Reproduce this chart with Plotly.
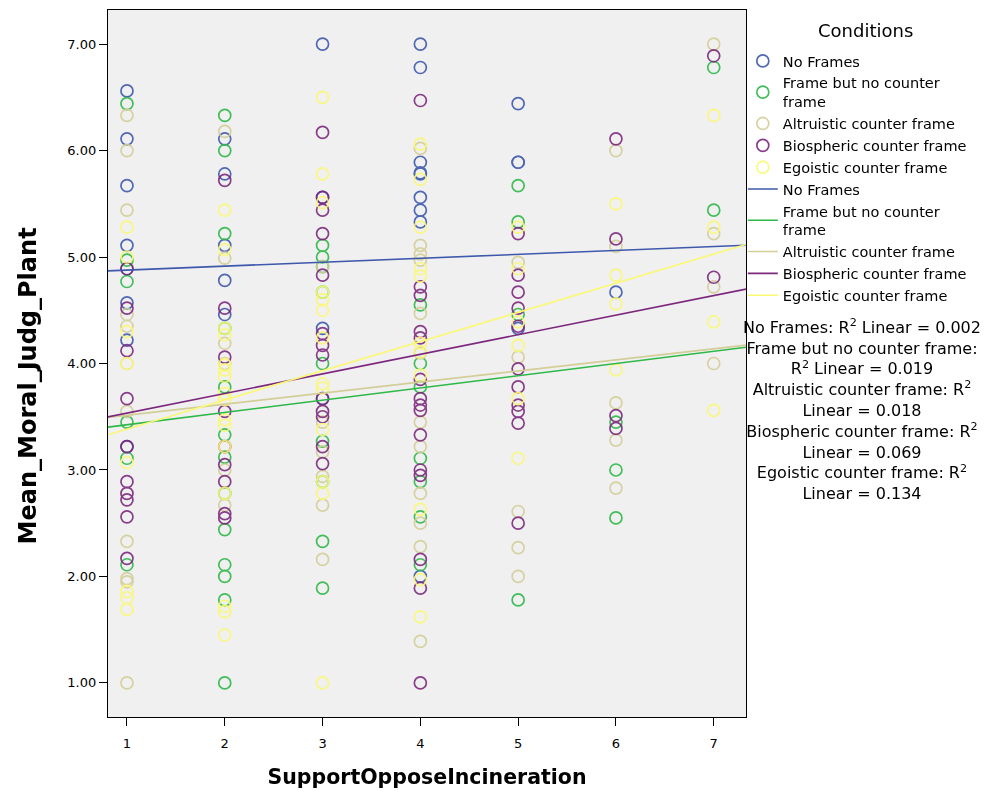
import plotly.graph_objects as go

# ---------------- data ----------------
conditions = ["No Frames", "Frame but no counter frame", "Altruistic counter frame",
              "Biospheric counter frame", "Egoistic counter frame"]
legend_names = ["No Frames", "Frame but no counter<br>frame", "Altruistic counter frame",
                "Biospheric counter frame", "Egoistic counter frame"]
colors = ["#3E58AC", "#2EB848", "#D3CE97", "#7C287D", "#FBF873"]

no_frames = {
    1: [6.56, 6.11, 5.67, 5.11, 4.89, 4.57, 4.22, 3.22],
    2: [6.11, 5.78, 5.11, 4.78, 4.46],
    3: [7.00, 5.56, 4.33, 3.67],
    4: [7.00, 6.78, 5.89, 5.79, 5.78, 5.56, 5.44, 5.33, 2.00],
    5: [6.44, 5.89, 5.89, 4.33],
    6: [4.67],
    7: [],
}
frame_no_counter = {
    1: [6.44, 4.97, 4.77, 3.45, 3.11, 2.11],
    2: [6.33, 6.00, 5.22, 4.33, 3.78, 3.33, 3.12, 2.78, 2.44, 2.11, 2.00, 1.78, 1.00],
    3: [5.11, 5.00, 4.91, 4.67, 4.00, 3.27, 2.89, 2.33, 1.89],
    4: [4.55, 4.00, 3.78, 3.11, 2.89, 2.56, 2.11],
    5: [5.67, 5.33, 4.46, 1.78],
    6: [3.45, 3.00, 2.55],
    7: [6.78, 5.44],
}
altruistic = {
    1: [6.33, 6.00, 5.44, 4.46, 4.35, 4.00, 3.55, 2.33, 1.98, 1.95, 1.00],
    2: [6.18, 4.99, 4.19, 4.00, 3.00, 2.67],
    3: [4.91, 3.45, 3.17, 2.94, 2.67, 2.16],
    4: [6.02, 5.11, 5.03, 4.97, 4.47, 4.10, 3.45, 3.22, 2.78, 2.50, 2.28, 1.39],
    5: [4.95, 4.06, 2.61, 2.27, 2.00],
    6: [6.00, 5.10, 3.63, 3.28, 2.83],
    7: [7.00, 5.22, 4.72, 4.00],
}
biospheric = {
    1: [4.89, 4.52, 4.12, 3.67, 3.22, 2.89, 2.78, 2.72, 2.56, 2.17],
    2: [5.72, 4.52, 4.06, 3.55, 3.22, 3.05, 2.89, 2.59, 2.55],
    3: [6.17, 5.56, 5.44, 5.22, 4.83, 4.28, 4.17, 4.08, 3.67, 3.55, 3.50, 3.22, 3.06],
    4: [6.47, 4.72, 4.64, 4.30, 4.24, 3.85, 3.67, 3.61, 3.56, 3.33, 3.00, 2.95, 2.16, 1.89, 1.00],
    5: [5.22, 4.83, 4.67, 4.52, 4.35, 3.95, 3.78, 3.61, 3.55, 3.44, 2.50],
    6: [6.11, 5.17, 3.51, 3.39],
    7: [6.89, 4.81],
}
egoistic = {
    1: [5.28, 5.00, 4.30, 4.00, 3.07, 1.86, 1.80, 1.69],
    2: [5.44, 5.07, 4.33, 4.27, 3.99, 3.94, 3.88, 3.72, 3.66, 3.47, 3.42, 3.22, 2.78, 1.72, 1.67, 1.45],
    3: [6.50, 5.78, 5.51, 4.67, 4.60, 4.50, 4.24, 3.81, 3.77, 3.38, 2.89, 2.78, 1.00],
    4: [6.06, 5.73, 5.28, 4.89, 4.82, 4.19, 4.11, 3.89, 2.63, 1.97, 1.62],
    5: [5.28, 4.89, 4.39, 4.17, 3.67, 3.11],
    6: [5.50, 4.83, 4.56, 3.94],
    7: [6.33, 5.28, 4.39, 3.56],
}
series = [no_frames, frame_no_counter, altruistic, biospheric, egoistic]

# linear fit parameters (intercept, slope)
intercepts = [4.84, 3.31, 3.41, 3.35, 3.11]
slopes = [0.037, 0.115, 0.104, 0.184, 0.274]
r2_values = ["0.002", "0.019", "0.018", "0.069", "0.134"]

x_ticks = [1, 2, 3, 4, 5, 6, 7]
y_ticks = [1, 2, 3, 4, 5, 6, 7]
x_range = [0.806, 7.33]
y_range = [0.68, 7.32]

# ---------------- figure ----------------
FONT = "DejaVu Sans, sans-serif"
fig = go.Figure()

for name, col, d in zip(legend_names, colors, series):
    xs, ys = [], []
    for k, vals in d.items():
        xs += [k] * len(vals)
        ys += vals
    fig.add_trace(go.Scatter(
        x=xs, y=ys, mode="markers", name=name,
        marker=dict(symbol="circle-open", size=12, color=col, line=dict(width=1.7)),
        opacity=0.9,
    ))

for name, col, b0, b1 in zip(legend_names, colors, intercepts, slopes):
    xs = x_range
    ys = [b0 + b1 * x for x in xs]
    fig.add_trace(go.Scatter(
        x=xs, y=ys, mode="lines", name=name,
        line=dict(color=col, width=1.6),
    ))

r2_lines = [
    "No Frames: R<sup>2</sup> Linear = " + r2_values[0],
    "Frame but no counter frame:",
    "R<sup>2</sup> Linear = " + r2_values[1],
    "Altruistic counter frame: R<sup>2</sup>",
    "Linear = " + r2_values[2],
    "Biospheric counter frame: R<sup>2</sup>",
    "Linear = " + r2_values[3],
    "Egoistic counter frame: R<sup>2</sup>",
    "Linear = " + r2_values[4],
]
fig.add_annotation(
    text="<br>".join(r2_lines), xref="paper", yref="paper",
    x=1.1818, y=0.57, xanchor="center", yanchor="top", showarrow=False,
    align="center", font=dict(family=FONT, size=16, color="black"),
)
fig.add_annotation(
    text="Conditions", xref="paper", yref="paper",
    x=1.188, y=0.9717, xanchor="center", yanchor="middle", showarrow=False,
    font=dict(family=FONT, size=18, color="black"),
)
# y axis title
fig.add_annotation(
    text="<b>Mean_Moral_Judg_Plant</b>", xref="paper", yref="paper",
    x=-0.1254, y=0.469, xanchor="center", yanchor="middle", showarrow=False,
    textangle=-90, font=dict(family=FONT, size=24, color="black"),
)

fig.update_layout(
    width=985, height=796,
    margin=dict(l=108, r=239, t=10, b=79, autoexpand=False),
    paper_bgcolor="white", plot_bgcolor="#F0F0F0",
    font=dict(family=FONT, size=13, color="black"),
    showlegend=True,
    legend=dict(
        x=0.995, y=0.9505, xanchor="left", yanchor="top",
        bgcolor="rgba(0,0,0,0)",
        font=dict(family=FONT, size=14.5, color="black"),
        tracegroupgap=0,
    ),
    xaxis=dict(
        range=x_range, tickvals=x_ticks, ticktext=[str(v) for v in x_ticks],
        showgrid=False, zeroline=False,
        showline=True, linecolor="black", linewidth=1.2, mirror=True,
        ticks="outside", ticklen=8, tickcolor="black", ticklabelstandoff=6,
        tickfont=dict(family=FONT, size=13),
        title=dict(text="<b>SupportOpposeIncineration</b>", standoff=19,
                   font=dict(family=FONT, size=20.5)),
    ),
    yaxis=dict(
        range=y_range, tickvals=y_ticks, ticktext=["%.2f" % v for v in y_ticks],
        showgrid=False, zeroline=False,
        showline=True, linecolor="black", linewidth=1.2, mirror=True,
        ticks="outside", ticklen=8, tickcolor="black",
        tickfont=dict(family=FONT, size=13),
    ),
)

fig.write_html("out.html")
